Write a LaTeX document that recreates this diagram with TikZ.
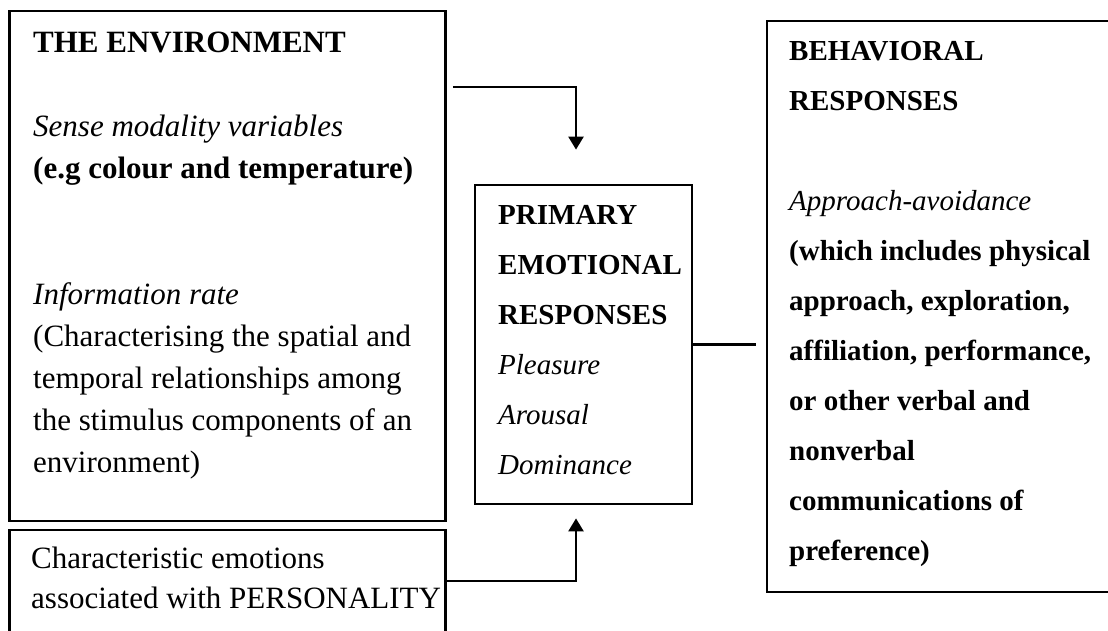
\documentclass[tikz,border=0pt]{standalone}
\usepackage{fontspec}
\setmainfont{Liberation Serif}
\usetikzlibrary{arrows.meta}

\begin{document}
\begin{tikzpicture}[
        x=1pt, y=-1pt,
        box/.style={draw, line width=2.8pt, inner sep=0pt},
        txt/.style={anchor=base west, inner sep=0pt, align=left},
        big/.style={font=\fontsize{31}{42}\selectfont},
        small/.style={font=\fontsize{29}{50}\selectfont},
        link/.style={line width=2.5pt},
        flow/.style={link, -{Triangle[length=13pt,width=15pt]}}
    ]
        \useasboundingbox (0,0) rectangle (1108,631);
        \node[box, minimum width=436pt, minimum height=510pt] (env)  at (227.5,266)  {};
        \node[box, minimum width=436pt, minimum height=130pt] (pers) at (227.5,595)  {};
        \node[box, minimum width=217pt, minimum height=319pt] (prim) at (583.5,344.5) {};
        \node[box, minimum width=383pt, minimum height=571pt] (beh)  at (958.5,306.5) {};
        % text blocks are placed at the baseline of their last line
        \node[txt, big] (envtext) at (33,472) {\textbf{THE ENVIRONMENT}\\ \\
            \textit{Sense modality variables}\\ \textbf{(e.g colour and temperature)}\\ \\ \\
            \textit{Information rate}\\ (Characterising the spatial and\\
            temporal relationships among\\ the stimulus components of an\\ environment)};
        \node[txt, font=\fontsize{31}{40}\selectfont] (perstext) at (31,608)
            {Characteristic emotions\\ associated with PERSONALITY};
        \node[txt, small] (primtext) at (498,474) {\textbf{PRIMARY}\\ \textbf{EMOTIONAL}\\
            \textbf{RESPONSES}\\ \textit{Pleasure}\\ \textit{Arousal}\\ \textit{Dominance}};
        \node[txt, small] (behtext) at (789,560) {\textbf{BEHAVIORAL}\\ \textbf{RESPONSES}\\ \\
            \textit{Approach-avoidance}\\ \textbf{(which includes physical}\\
            \textbf{approach, exploration,}\\ \textbf{affiliation, performance,}\\
            \textbf{or other verbal and}\\ \textbf{nonverbal}\\
            \textbf{communications of}\\ \textbf{preference)}};
        \draw[flow, shorten <=6pt, shorten >=34pt] (env.east |- 0,87) -| ([xshift=-7.5pt]prim.north);
        \draw[flow, shorten >=13pt] (pers.east |- 0,581) -| ([xshift=-7.5pt]prim.south);
        \draw[link, shorten >=10pt] (prim.east) -- (prim.east -| beh.west);
    \end{tikzpicture}
\end{document}
